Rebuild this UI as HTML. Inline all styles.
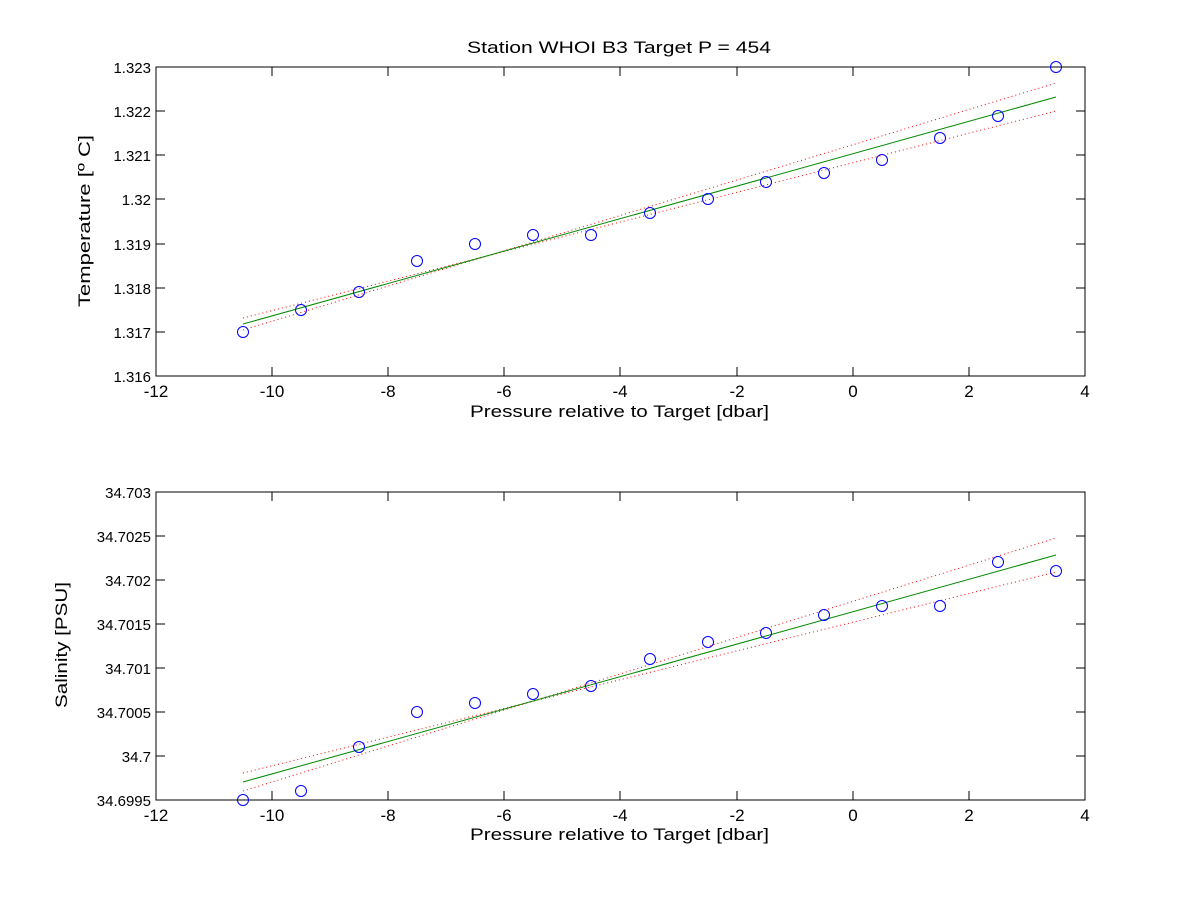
<!DOCTYPE html>
<html><head><style>body{margin:0;background:#fff}svg{display:block}text{font-family:"Liberation Sans",sans-serif;font-size:17px;fill:#000}.yt text{font-size:15px}</style></head><body>
<svg width="1200" height="901" xmlns="http://www.w3.org/2000/svg">
<rect width="1200" height="901" fill="#fff"/>
<g id="ax1">
<rect x="156" y="67" width="929" height="309" fill="none" stroke="#000" stroke-width="1"/>
<g stroke="#000">
<path d="M156,376v-9M272,376v-9M388,376v-9M504,376v-9M620,376v-9M737,376v-9M853,376v-9M969,376v-9M1085,376v-9"/>
<path d="M156,67v9M272,67v9M388,67v9M504,67v9M620,67v9M737,67v9M853,67v9M969,67v9M1085,67v9"/>
<path d="M156,67h9M156,111h9M156,155h9M156,199h9M156,244h9M156,288h9M156,332h9M156,376h9"/>
<path d="M1085,67h-9M1085,111h-9M1085,155h-9M1085,199h-9M1085,244h-9M1085,288h-9M1085,332h-9M1085,376h-9"/>
</g>
<g class="yt" text-anchor="end"><text x="151" y="73">1.323</text><text x="151" y="117">1.322</text><text x="151" y="161">1.321</text><text x="151" y="205">1.32</text><text x="151" y="250">1.319</text><text x="151" y="294">1.318</text><text x="151" y="338">1.317</text><text x="151" y="382">1.316</text></g>
<g text-anchor="middle"><text x="156" y="397">-12</text><text x="272" y="397">-10</text><text x="388" y="397">-8</text><text x="504" y="397">-6</text><text x="620" y="397">-4</text><text x="737" y="397">-2</text><text x="853" y="397">0</text><text x="969" y="397">2</text><text x="1085" y="397">4</text></g>
<text x="470" y="417" textLength="299" lengthAdjust="spacingAndGlyphs">Pressure relative to Target [dbar]</text>
<text x="467" y="53" textLength="304" lengthAdjust="spacingAndGlyphs">Station  WHOI B3 Target P = 454</text>
<text transform="translate(90,307) rotate(-90)" textLength="172" lengthAdjust="spacingAndGlyphs">Temperature [º C]</text>
<polyline points="243,318 487,256 1056,83" fill="none" stroke="red" stroke-dasharray="1,3"/>
<polyline points="243,330 487,256 1056,111" fill="none" stroke="red" stroke-dasharray="1,3"/>
<line x1="243" y1="324" x2="1056" y2="97" stroke="#080"/>
<g fill="none" stroke="#00f">
<circle cx="243" cy="332" r="5.5"/><circle cx="301" cy="310" r="5.5"/><circle cx="359" cy="292" r="5.5"/><circle cx="417" cy="261" r="5.5"/><circle cx="475" cy="244" r="5.5"/><circle cx="533" cy="235" r="5.5"/><circle cx="591" cy="235" r="5.5"/><circle cx="650" cy="213" r="5.5"/><circle cx="708" cy="199" r="5.5"/><circle cx="766" cy="182" r="5.5"/><circle cx="824" cy="173" r="5.5"/><circle cx="882" cy="160" r="5.5"/><circle cx="940" cy="138" r="5.5"/><circle cx="998" cy="116" r="5.5"/><circle cx="1056" cy="67" r="5.5"/>
</g>
</g>
<g id="ax2">
<rect x="156" y="492" width="929" height="308" fill="none" stroke="#000" stroke-width="1"/>
<g stroke="#000">
<path d="M156,800v-9M272,800v-9M388,800v-9M504,800v-9M620,800v-9M737,800v-9M853,800v-9M969,800v-9M1085,800v-9"/>
<path d="M156,492v9M272,492v9M388,492v9M504,492v9M620,492v9M737,492v9M853,492v9M969,492v9M1085,492v9"/>
<path d="M156,492h9M156,536h9M156,580h9M156,624h9M156,668h9M156,712h9M156,756h9M156,800h9"/>
<path d="M1085,492h-9M1085,536h-9M1085,580h-9M1085,624h-9M1085,668h-9M1085,712h-9M1085,756h-9M1085,800h-9"/>
</g>
<g class="yt" text-anchor="end"><text x="151" y="498">34.703</text><text x="151" y="542">34.7025</text><text x="151" y="586">34.702</text><text x="151" y="630">34.7015</text><text x="151" y="674">34.701</text><text x="151" y="718">34.7005</text><text x="151" y="762">34.7</text><text x="151" y="806">34.6995</text></g>
<g text-anchor="middle"><text x="156" y="821">-12</text><text x="272" y="821">-10</text><text x="388" y="821">-8</text><text x="504" y="821">-6</text><text x="620" y="821">-4</text><text x="737" y="821">-2</text><text x="853" y="821">0</text><text x="969" y="821">2</text><text x="1085" y="821">4</text></g>
<text x="470" y="840" textLength="299" lengthAdjust="spacingAndGlyphs">Pressure relative to Target [dbar]</text>
<text transform="translate(67,708) rotate(-90)" textLength="126" lengthAdjust="spacingAndGlyphs">Salinity [PSU]</text>
<polyline points="243,773 530,702 1056,538" fill="none" stroke="red" stroke-dasharray="1,3"/>
<polyline points="243,791 530,702 1056,572" fill="none" stroke="red" stroke-dasharray="1,3"/>
<line x1="243" y1="782" x2="1056" y2="555" stroke="#080"/>
<g fill="none" stroke="#00f">
<circle cx="243" cy="800" r="5.5"/><circle cx="301" cy="791" r="5.5"/><circle cx="359" cy="747" r="5.5"/><circle cx="417" cy="712" r="5.5"/><circle cx="475" cy="703" r="5.5"/><circle cx="533" cy="694" r="5.5"/><circle cx="591" cy="686" r="5.5"/><circle cx="650" cy="659" r="5.5"/><circle cx="708" cy="642" r="5.5"/><circle cx="766" cy="633" r="5.5"/><circle cx="824" cy="615" r="5.5"/><circle cx="882" cy="606" r="5.5"/><circle cx="940" cy="606" r="5.5"/><circle cx="998" cy="562" r="5.5"/><circle cx="1056" cy="571" r="5.5"/>
</g>
</g>
</svg>
</body></html>
